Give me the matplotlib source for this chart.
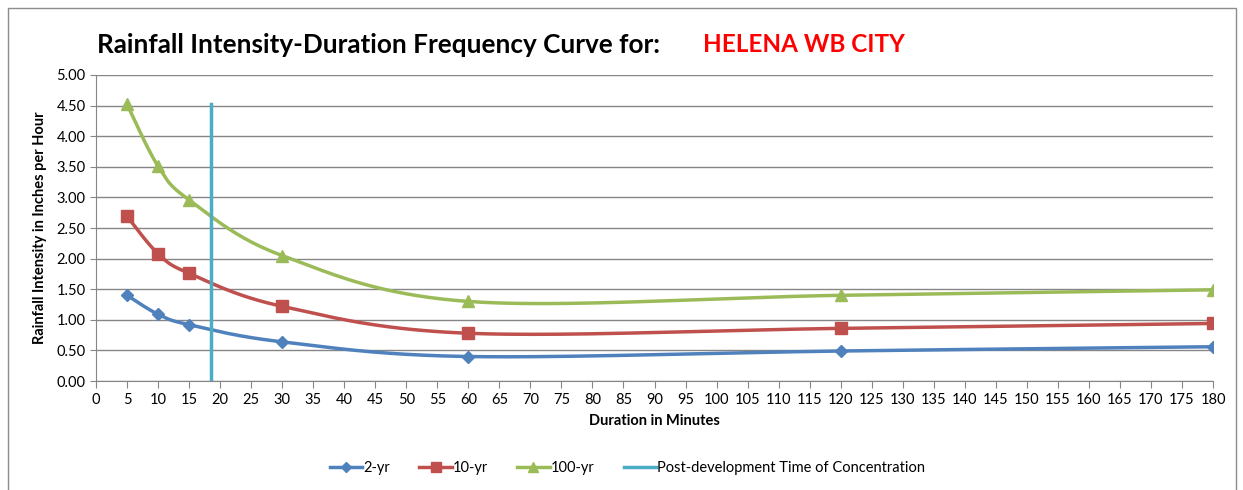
import numpy as np
import matplotlib
matplotlib.use("Agg")
import matplotlib.pyplot as plt
from matplotlib.patches import Rectangle

plt.rcParams['font.family'] = ['Lato', 'DejaVu Sans']

duration = [5, 10, 15, 30, 60, 120, 180]
yr2 = [1.40, 1.09, 0.92, 0.64, 0.40, 0.49, 0.56]
yr10 = [2.69, 2.08, 1.76, 1.22, 0.78, 0.86, 0.94]
yr100 = [4.52, 3.51, 2.96, 2.05, 1.30, 1.40, 1.49]
tc_x = [18.6, 18.6]
tc_y = [0.0, 4.52]
city = "HELENA WB CITY"


def smooth(xs, ys, n=40):
    # Excel-style smoothed line (Catmull-Rom Bezier)
    p = np.column_stack([xs, ys]).astype(float)
    p = np.vstack([p[0], p, p[-1]])
    out = []
    for i in range(1, len(p) - 2):
        p0, p1, p2, p3 = p[i - 1], p[i], p[i + 1], p[i + 2]
        c1 = p1 + (p2 - p0) / 6
        c2 = p2 - (p3 - p1) / 6
        t = np.linspace(0, 1, n)[:, None]
        seg = ((1 - t) ** 3) * p1 + 3 * ((1 - t) ** 2) * t * c1 + 3 * (1 - t) * t ** 2 * c2 + t ** 3 * p2
        out.append(seg)
    s = np.vstack(out)
    return s[:, 0], s[:, 1]


fig = plt.figure(figsize=(12.43, 4.9), dpi=100)
fig.patches.append(Rectangle((8 / 1243, -0.1), 1228 / 1243, 1.1 - 8 / 490, transform=fig.transFigure,
                             fill=False, edgecolor="#8c8c8c", lw=1.0))
ax = fig.add_axes([96 / 1243, 1 - 381 / 490, 1117 / 1243, 306 / 490])

series = [(yr2, "2-yr", "#4F81BD", "D", 6),
          (yr10, "10-yr", "#C0504D", "s", 8),
          (yr100, "100-yr", "#9BBB59", "^", 8)]
for vals, lab, col, mk, ms in series:
    sx, sy = smooth(duration, vals)
    ax.plot(sx, sy, color=col, lw=2.5, zorder=3)
    ax.plot(duration, vals, ls="none", marker=mk, ms=ms, color=col, zorder=4)
    ax.plot([], [], color=col, lw=2.5, marker=mk, ms=ms - 1, label=lab)

ax.plot(tc_x, tc_y, color="#4BACC6", lw=2.5, zorder=3, label="Post-development Time of Concentration")

ax.set_xlim(0, 180)
ax.set_ylim(0, 5)
ax.set_xticks(np.arange(0, 181, 5))
ax.set_yticks(np.arange(0, 5.01, 0.5))
ax.set_yticklabels([f"{v:.2f}" for v in np.arange(0, 5.01, 0.5)])
ax.tick_params(labelsize=10.5, color="#868686", length=5, direction="out")
ax.tick_params(axis="y", length=4)
ax.grid(axis="y", color="#868686", lw=1)
ax.set_axisbelow(True)
for s in ["top", "right"]:
    ax.spines[s].set_visible(False)
for s in ["left", "bottom"]:
    ax.spines[s].set_color("#868686")

ax.set_xlabel("Duration in Minutes", fontsize=10.5, fontweight="bold", labelpad=5)
ax.set_ylabel("Rainfall Intensity in Inches per Hour", fontsize=10.5, fontweight="bold", labelpad=7)

fig.text(97 / 1243, 1 - 45 / 490, "Rainfall Intensity-Duration Frequency Curve for:", fontsize=18.8,
         fontweight="bold", va="center", ha="left")
fig.text(703 / 1243, 1 - 45 / 490, city, fontsize=17.5, fontweight="bold", color="#FF0000",
         va="center", ha="left")

fig.legend(loc="center", bbox_to_anchor=(0.505, 1 - 468 / 490), ncol=4, frameon=False, fontsize=10.5,
           handlelength=2.2, columnspacing=2.0, handletextpad=0.1)

fig.savefig("out.png", dpi=100)
